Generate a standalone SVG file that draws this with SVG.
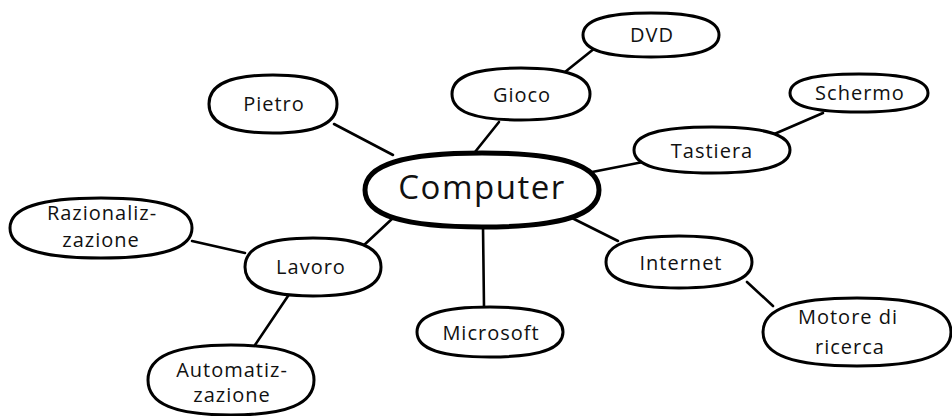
<svg xmlns="http://www.w3.org/2000/svg" width="952" height="416" viewBox="0 0 952 416">
<style>
.edge{stroke:#000;stroke-width:2.6;stroke-linecap:round;fill:none}
.node{fill:#fff;stroke:#000;stroke-width:3;stroke-linejoin:round}
.main{fill:#fff;stroke:#000;stroke-width:5;stroke-linejoin:round}
text{font-family:"Open Sans","DejaVu Sans",sans-serif;font-size:20px;fill:#111;text-anchor:middle;letter-spacing:1px}
.big{font-size:33px;letter-spacing:1.5px}
</style>
<rect width="952" height="416" fill="#fff"/>
<g id="connectors">
<line class="edge" x1="334" y1="124" x2="393" y2="155"/>
<line class="edge" x1="475" y1="152" x2="499" y2="122"/>
<line class="edge" x1="565" y1="72" x2="595" y2="48"/>
<line class="edge" x1="587" y1="173" x2="643" y2="162"/>
<line class="edge" x1="772" y1="135" x2="823" y2="113"/>
<line class="edge" x1="572" y1="218" x2="618" y2="241"/>
<line class="edge" x1="483" y1="226" x2="484" y2="307"/>
<line class="edge" x1="747" y1="282" x2="773" y2="306"/>
<line class="edge" x1="363" y1="246" x2="393" y2="218"/>
<line class="edge" x1="192" y1="241" x2="245" y2="253"/>
<line class="edge" x1="288" y1="296" x2="255" y2="345"/>
</g>
<g id="computer">
<path class="main" d="M365,190 C365,164.8 402.4,153 482,153 C561.6,153 599,164.8 599,190 C599,215.2 561.6,227 482,227 C402.4,227 365,215.2 365,190Z"/>
<text class="big" x="482" y="199">Computer</text>
</g>
<g id="pietro">
<path class="node" d="M209,104 C209,84.3 229.5,75 273,75 C316.5,75 337,84.3 337,104 C337,123.7 316.5,133 273,133 C229.5,133 209,123.7 209,104Z"/>
<text x="274" y="111">Pietro</text>
</g>
<g id="gioco">
<path class="node" d="M452,94 C452,76.3 474.1,68 521,68 C567.9,68 590,76.3 590,94 C590,111.7 567.9,120 521,120 C474.1,120 452,111.7 452,94Z"/>
<text x="522" y="102">Gioco</text>
</g>
<g id="dvd">
<path class="node" d="M583,35 C583,20 604.8,13 651,13 C697.2,13 719,20 719,35 C719,50 697.2,57 651,57 C604.8,57 583,50 583,35Z"/>
<text x="652" y="42">DVD</text>
</g>
<g id="schermo">
<path class="node" d="M790,93 C790,80.1 812.1,74 859,74 C905.9,74 928,80.1 928,93 C928,105.9 905.9,112 859,112 C812.1,112 790,105.9 790,93Z"/>
<text x="860" y="100">Schermo</text>
</g>
<g id="tastiera">
<path class="node" d="M634,150 C634,134.4 659,127 712,127 C765,127 790,134.4 790,150 C790,165.6 765,173 712,173 C659,173 634,165.6 634,150Z"/>
<text x="712" y="158">Tastiera</text>
</g>
<g id="razionalizzazione">
<path class="node" d="M10,228 C10,207.6 39.1,198 101,198 C162.9,198 192,207.6 192,228 C192,248.4 162.9,258 101,258 C39.1,258 10,248.4 10,228Z"/>
<text x="102" y="220">Razionaliz-</text>
<text x="101" y="247">zazione</text>
</g>
<g id="lavoro">
<path class="node" d="M245,267 C245,247.3 266.8,238 313,238 C359.2,238 381,247.3 381,267 C381,286.7 359.2,296 313,296 C266.8,296 245,286.7 245,267Z"/>
<text x="311" y="274">Lavoro</text>
</g>
<g id="automatizzazione">
<path class="node" d="M148,380 C148,356.2 174.6,345 231,345 C287.4,345 314,356.2 314,380 C314,403.8 287.4,415 231,415 C174.6,415 148,403.8 148,380Z"/>
<text x="232" y="377">Automatiz-</text>
<text x="232" y="402">zazione</text>
</g>
<g id="internet">
<path class="node" d="M606,262 C606,244.3 629.4,236 679,236 C728.6,236 752,244.3 752,262 C752,279.7 728.6,288 679,288 C629.4,288 606,279.7 606,262Z"/>
<text x="681" y="270">Internet</text>
</g>
<g id="microsoft">
<path class="node" d="M417,332 C417,315 440.4,307 490,307 C539.6,307 563,315 563,332 C563,349 539.6,357 490,357 C440.4,357 417,349 417,332Z"/>
<text x="491" y="340">Microsoft</text>
</g>
<g id="motore">
<path class="node" d="M763,332 C763,308.9 793.1,298 857,298 C920.9,298 951,308.9 951,332 C951,355.1 920.9,366 857,366 C793.1,366 763,355.1 763,332Z"/>
<text x="848" y="324">Motore di</text>
<text x="850" y="354">ricerca</text>
</g>
</svg>
